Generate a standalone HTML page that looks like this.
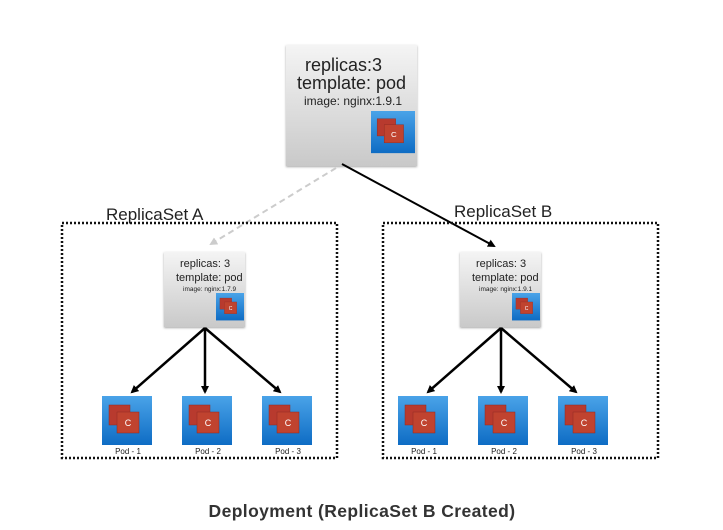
<!DOCTYPE html>
<html><head><meta charset="utf-8"><style>
html,body{margin:0;padding:0;background:#fff;width:723px;height:530px;overflow:hidden}
svg{display:block}
text{font-family:"Liberation Sans",sans-serif;fill:#222}
</style></head><body>
<svg width="723" height="530" viewBox="0 0 723 530" xmlns="http://www.w3.org/2000/svg">
<defs>
<linearGradient id="g" x1="0" y1="0" x2="0" y2="1"><stop offset="0" stop-color="#f4f4f4"/><stop offset="1" stop-color="#c9c9c9"/></linearGradient>
<linearGradient id="b" x1="0" y1="0" x2="0" y2="1"><stop offset="0" stop-color="#4aa3e8"/><stop offset="1" stop-color="#0e6cc4"/></linearGradient>
<marker id="ah" markerWidth="8" markerHeight="8" refX="6" refY="4" orient="auto" markerUnits="userSpaceOnUse"><path d="M0,0 L8,4 L0,8 z" fill="#000"/></marker>
<marker id="ahg" markerWidth="8" markerHeight="8" refX="6" refY="4" orient="auto" markerUnits="userSpaceOnUse"><path d="M0,0 L8,4 L0,8 z" fill="#ccc"/></marker>
<filter id="sh"><feDropShadow dx="0" dy="1" stdDeviation="1" flood-opacity="0.35"/></filter>
<g id="icon"><rect width="50" height="49" fill="url(#b)"/><rect x="7" y="9" width="21" height="20" fill="#b83a2e" stroke="#8e2a22" stroke-width="0.5"/><rect x="15" y="16" width="22" height="21" fill="#c0432f" stroke="#8e2a22" stroke-width="0.5"/><text x="26" y="30" font-size="9" text-anchor="middle" style="fill:#fff">C</text></g>
</defs>

<rect x="286" y="45" width="131" height="121" fill="url(#g)" filter="url(#sh)"/>
<text x="305" y="71" font-size="18">replicas:3</text>
<text x="297" y="89" font-size="18">template: pod</text>
<text x="304" y="105" font-size="12">image: nginx:1.9.1</text>
<g transform="translate(371,111) scale(0.88,0.86)"><use href="#icon"/></g>

<line x1="336" y1="168" x2="211" y2="244" stroke="#ccc" stroke-width="2" stroke-dasharray="6,4" marker-end="url(#ahg)"/>
<line x1="342" y1="164" x2="494" y2="246" stroke="#000" stroke-width="2" marker-end="url(#ah)"/>

<rect x="62" y="223" width="275" height="235" fill="none" stroke="#111" stroke-width="2.5" stroke-dasharray="2,2"/>
<rect x="383" y="223" width="275" height="235" fill="none" stroke="#111" stroke-width="2.5" stroke-dasharray="2,2"/>
<text x="106" y="220" font-size="17">ReplicaSet A</text>
<text x="454" y="217" font-size="17">ReplicaSet B</text>

<rect x="164" y="252" width="81" height="75" fill="url(#g)" filter="url(#sh)"/>
<text x="180" y="267" font-size="11">replicas: 3</text>
<text x="176" y="281" font-size="11">template: pod</text>
<text x="183" y="291" font-size="6.5">image: nginx:1.7.9</text>
<g transform="translate(216,293) scale(0.56,0.56)"><use href="#icon"/></g>
<g stroke="#000" stroke-width="2.5">
<line x1="205" y1="328" x2="132" y2="392" marker-end="url(#ah)"/>
<line x1="205" y1="328" x2="205" y2="392" marker-end="url(#ah)"/>
<line x1="205" y1="328" x2="280" y2="392" marker-end="url(#ah)"/>
</g>
<use href="#icon" x="102" y="396"/><use href="#icon" x="182" y="396"/><use href="#icon" x="262" y="396"/>
<text x="128" y="454" font-size="8" text-anchor="middle">Pod - 1</text>
<text x="208" y="454" font-size="8" text-anchor="middle">Pod - 2</text>
<text x="288" y="454" font-size="8" text-anchor="middle">Pod - 3</text>

<rect x="460" y="252" width="81" height="75" fill="url(#g)" filter="url(#sh)"/>
<text x="476" y="267" font-size="11">replicas: 3</text>
<text x="472" y="281" font-size="11">template: pod</text>
<text x="479" y="291" font-size="6.5">image: nginx:1.9.1</text>
<g transform="translate(512,293) scale(0.56,0.56)"><use href="#icon"/></g>
<g stroke="#000" stroke-width="2.5">
<line x1="501" y1="328" x2="428" y2="392" marker-end="url(#ah)"/>
<line x1="501" y1="328" x2="501" y2="392" marker-end="url(#ah)"/>
<line x1="501" y1="328" x2="576" y2="392" marker-end="url(#ah)"/>
</g>
<use href="#icon" x="398" y="396"/><use href="#icon" x="478" y="396"/><use href="#icon" x="558" y="396"/>
<text x="424" y="454" font-size="8" text-anchor="middle">Pod - 1</text>
<text x="504" y="454" font-size="8" text-anchor="middle">Pod - 2</text>
<text x="584" y="454" font-size="8" text-anchor="middle">Pod - 3</text>

<text x="362" y="517" font-size="17.5" font-weight="bold" text-anchor="middle" letter-spacing="0.4" style="fill:#333">Deployment (ReplicaSet B Created)</text>
</svg>
</body></html>
